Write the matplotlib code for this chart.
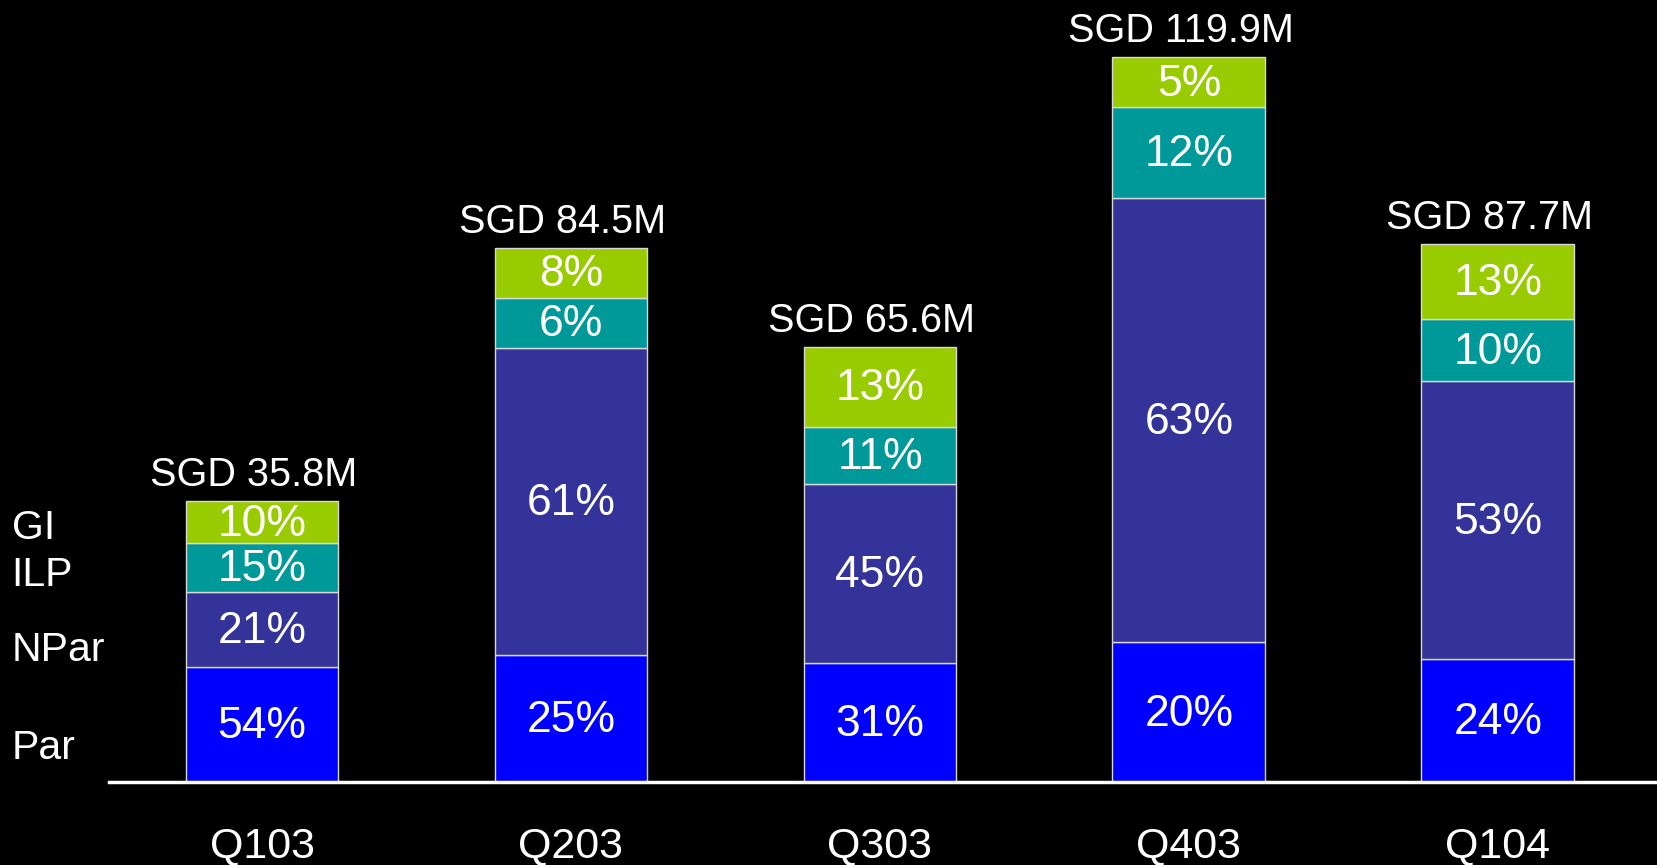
import matplotlib.pyplot as plt

plt.rcParams['font.family'] = ['Liberation Sans', 'DejaVu Sans']

quarters = ["Q103", "Q203", "Q303", "Q403", "Q104"]
totals = ["SGD 35.8M", "SGD 84.5M", "SGD 65.6M", "SGD 119.9M", "SGD 87.7M"]
series = ["Par", "NPar", "ILP", "GI"]

# segment heights as drawn in the original (not proportional to the shares)
par = [115, 127, 119, 140, 123]
npar = [75, 307, 179, 444, 278]
ilp = [49, 50, 57, 91, 62]
gi = [42, 50, 80, 50, 75]

# share labels printed in each segment
par_pct = ["54%", "25%", "31%", "20%", "24%"]
npar_pct = ["21%", "61%", "45%", "63%", "53%"]
ilp_pct = ["15%", "6%", "11%", "12%", "10%"]
gi_pct = ["10%", "8%", "13%", "5%", "13%"]

colors = ["#0000ff", "#333399", "#009999", "#99cc00"]
legend_y = [34, 132, 207, 254]

fig = plt.figure(figsize=(16.58, 8.65), dpi=100)
fig.patch.set_facecolor("black")
ax = fig.add_axes([0, 0, 1, 1])
ax.set_facecolor("black")
ax.set_xlim(-0.848, 4.518)
ax.set_ylim(-83, 782)
ax.axis("off")

x = list(range(len(quarters)))
bottom = [0] * len(quarters)
for vals, labels, col in zip([par, npar, ilp, gi], [par_pct, npar_pct, ilp_pct, gi_pct], colors):
    bars = ax.bar(x, vals, 0.495, bottom=bottom, color=col, edgecolor="#d8d8d8", linewidth=1, zorder=2)
    for b, lab in zip(bars, labels):
        ax.text(b.get_x() + b.get_width() / 2, b.get_y() + b.get_height() / 2 - 2, lab,
                ha="center", va="center", color="white", fontsize=32, zorder=4)
    bottom = [a + v for a, v in zip(bottom, vals)]

for i in x:
    ax.annotate(totals[i], (i, bottom[i]), xytext=(-6, 11), textcoords="offset points",
                ha="center", va="baseline", color="white", fontsize=28.5)
    ax.text(i, -75, quarters[i], ha="center", va="baseline", color="white", fontsize=31)

for name, y in zip(series, legend_y):
    ax.text(0.007, y, name, transform=ax.get_yaxis_transform(), ha="left", va="center",
            color="white", fontsize=29.5)

ax.axhline(0, xmin=109 / 1658, xmax=1, color="white", linewidth=2.5, zorder=3)

fig.savefig("out.png", dpi=100, facecolor="black")
